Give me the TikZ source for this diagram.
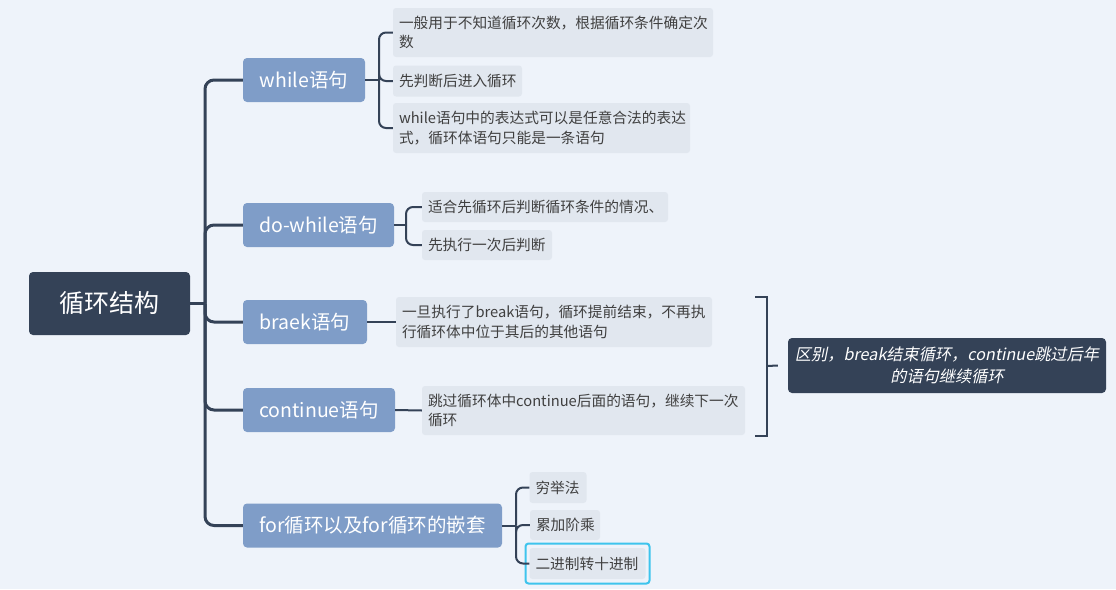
\documentclass[tikz,border=0pt]{standalone}
\usepackage{fontspec}
\setmainfont{Noto Sans CJK SC}
\newfontfamily\slantfont[FakeSlant=0.2]{Noto Sans CJK SC}
\definecolor{bgc}{RGB}{238,243,250}
\definecolor{darkc}{RGB}{52,66,87}
\definecolor{branchc}{RGB}{127,157,200}
\definecolor{leafc}{RGB}{225,231,239}
\definecolor{leaftxt}{RGB}{64,64,64}
\definecolor{selc}{RGB}{62,196,237}
\tikzset{
  rootbox/.style={fill=darkc, rounded corners=4pt, text=white, inner sep=0pt,
    font=\fontsize{25}{30}\selectfont},
  branchbox/.style={fill=branchc, rounded corners=4pt, text=white, inner sep=0pt,
    minimum height=44pt, font=\fontsize{19.5}{24}\selectfont},
  leafbox/.style={fill=leafc, rounded corners=3pt, text=leaftxt, inner xsep=6pt, inner ysep=2pt,
    align=left, font=\fontsize{14.7}{19.5}\selectfont},
  sumbox/.style={fill=darkc, rounded corners=4pt, text=white, inner sep=0pt, align=center,
    font=\slantfont\fontsize{16.2}{22}\selectfont},
  trunk/.style={draw=darkc, line width=3pt},
  twig/.style={draw=darkc, line width=2pt},
  selframe/.style={draw=selc, line width=2pt, rounded corners=3pt},
}
\begin{document}
\begin{tikzpicture}[x=1pt,y=-1pt]
\useasboundingbox[fill=bgc] (0,0) rectangle (1116,589);
% root
\node[rootbox, minimum width=161pt, minimum height=63pt] (root) at (109.5,303.5) {循环结构};
% branches
\node[branchbox, minimum width=122pt] (W) at (304,80) {while语句};
\node[branchbox, minimum width=151pt] (DW) at (318.5,225) {do-while语句};
\node[branchbox, minimum width=124pt] (BR) at (305,322) {braek语句};
\node[branchbox, minimum width=152pt] (CO) at (319,410) {continue语句};
\node[branchbox, minimum width=259pt] (FO) at (372.5,525.5) {for循环以及for循环的嵌套};
% leaves of while
\node[leafbox, text width=308pt, minimum height=49pt] (L1) at (553,32.5) {一般用于不知道循环次数，根据循环条件确定次\\数};
\node[leafbox, text width=117pt, minimum height=31pt] (L2) at (457.5,81) {先判断后进入循环};
\node[leafbox, text width=285pt, minimum height=50pt] (L3) at (541.5,128) {while语句中的表达式可以是任意合法的表达\\式，循环体语句只能是一条语句};
% leaves of do-while
\node[leafbox, text width=234pt, minimum height=30pt] (D1) at (545,207) {适合先循环后判断循环条件的情况、};
\node[leafbox, text width=118pt, minimum height=30pt] (D2) at (487,245) {先执行一次后判断};
% leaf of braek
\node[leafbox, text width=304pt, minimum height=50pt] (B1) at (554,322) {一旦执行了break语句，循环提前结束，不再执\\行循环体中位于其后的其他语句};
% leaf of continue
\node[leafbox, text width=311pt, minimum height=49pt] (C1) at (583.5,410.5) {跳过循环体中continue后面的语句，继续下一次\\循环};
% leaves of for
\node[leafbox, text width=45pt, minimum height=31pt] (F1) at (558,487.5) {穷举法};
\node[leafbox, text width=58pt, minimum height=30pt] (F2) at (565,525) {累加阶乘};
\node[leafbox, text width=104pt, minimum height=31pt] (F3) at (587.5,563.5) {二进制转十进制};
\draw[selframe] (525.5,543.5) rectangle (649.5,583.5);
% summary
\node[sumbox, minimum width=318pt, minimum height=55pt] (S) at (947,365.5) {区别，break结束循环，continue跳过后年\\的语句继续循环};
% trunk connectors
\coordinate (tr) at (205,303.5);
\draw[trunk] (root.east) -- (tr);
\foreach \b in {W,DW,BR,CO,FO}{
  \draw[trunk, rounded corners=9pt] (tr) |- (\b.west);
}
% while twigs
\coordinate (wb) at (379,80);
\draw[twig] (W.east) -- (wb);
\foreach \l in {L1,L2,L3}{
  \draw[twig, rounded corners=7pt] (wb) |- (\l.west);
}
% do-while twigs
\coordinate (db) at (406,225);
\draw[twig] (DW.east) -- (db);
\foreach \l in {D1,D2}{
  \draw[twig, rounded corners=7pt] (db) |- (\l.west);
}
% braek & continue
\draw[twig] (BR.east) -- (B1.west);
\draw[twig] (CO.east) -- (C1.west);
% for twigs
\coordinate (fb) at (516,525.5);
\draw[twig] (FO.east) -- (fb);
\foreach \l in {F1,F2,F3}{
  \draw[twig, rounded corners=7pt] (fb) |- (\l.west);
}
% summary bracket
\coordinate (st) at (755,297);
\coordinate (sb) at (755,436);
\coordinate (sm) at (767,366);
\draw[twig] (st) -| (sm) |- (sb);
\draw[twig] (sm) -- ([xshift=-10pt]S.west);
\end{tikzpicture}
\end{document}
